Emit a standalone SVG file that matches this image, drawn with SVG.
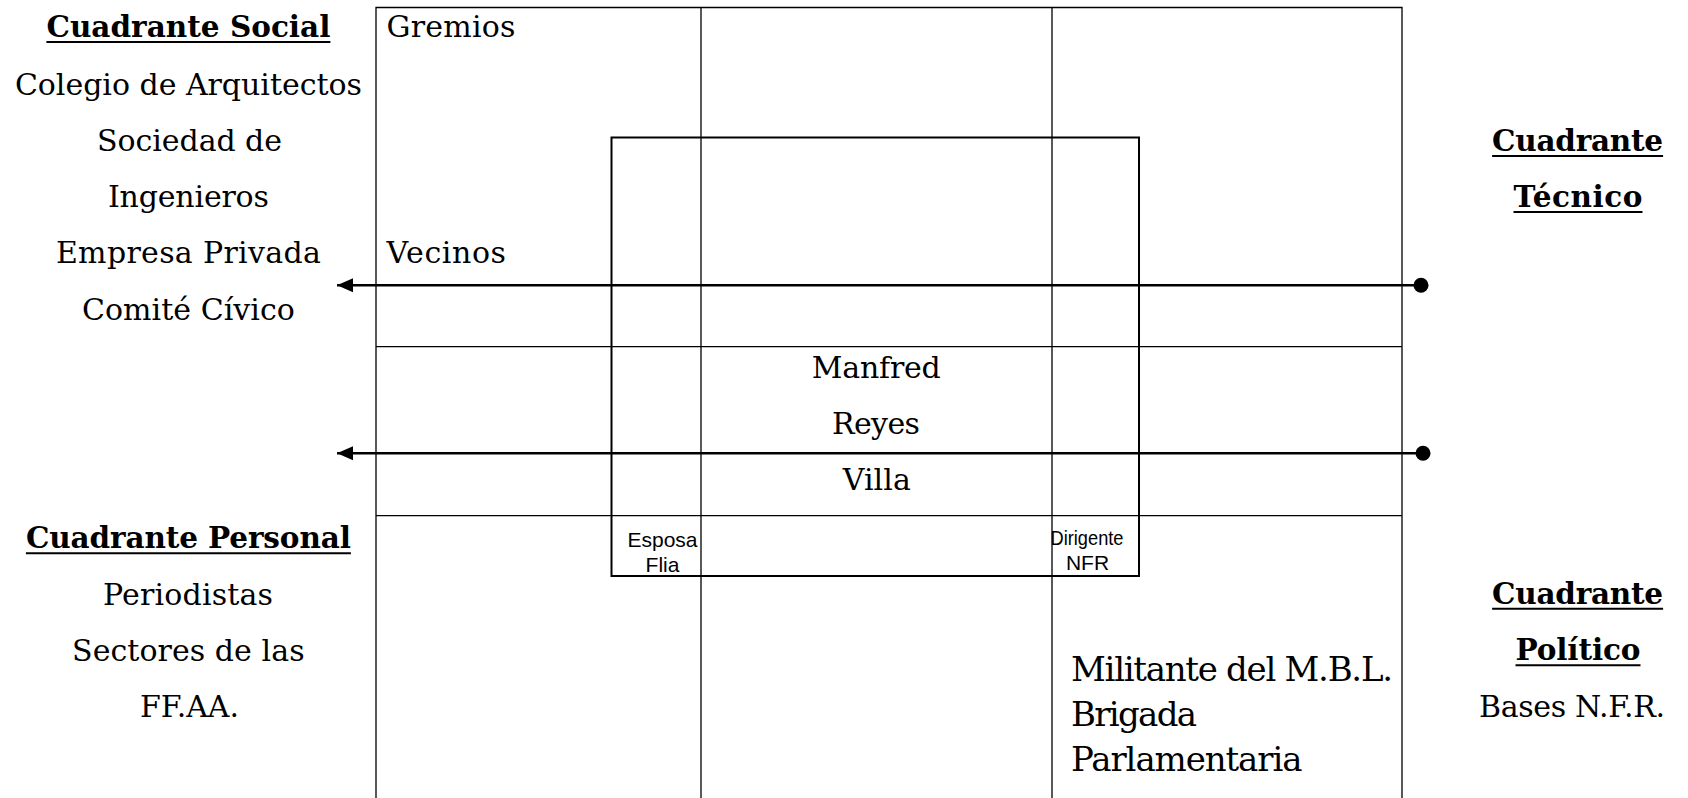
<svg xmlns="http://www.w3.org/2000/svg" width="1688" height="798" viewBox="0 0 1688 798">
<style>
.t{font-family:"DejaVu Serif","Liberation Serif",serif;font-size:30px;fill:#000}
.b{font-family:"DejaVu Serif","Liberation Serif",serif;font-size:29.5px;font-weight:bold;fill:#000}
.m{text-anchor:middle}
.s{font-family:"Liberation Sans",Arial,sans-serif;font-size:21px;fill:#000;text-anchor:middle}
.u{stroke:#000;stroke-width:2}
.g{fill:none;stroke:#000;stroke-width:1.3}
.r{fill:none;stroke:#000;stroke-width:2}
.c{stroke:#000;stroke-width:2.6;fill:none}
</style>
<defs>
<marker id="ah" markerUnits="userSpaceOnUse" markerWidth="18" markerHeight="16" refX="16" refY="8" orient="auto">
<path d="M16,8 L0,1 L0,15 Z" fill="#000"/>
</marker>
</defs>
<rect width="1688" height="798" fill="#fff"/>
<g id="grid">
<path class="g" d="M376,798 V7.5 H1402 V798 M701,7.5 V798 M1052,7.5 V798 M376,346.6 H1402 M376,515.6 H1402"/>
</g>
<g id="inner-box">
<rect class="r" x="611.5" y="137.5" width="527.5" height="438.5"/>
</g>
<g id="connectors">
<line class="c" x1="1421" y1="285.3" x2="337" y2="285.3" marker-end="url(#ah)"/>
<circle cx="1421" cy="285.3" r="7.5" fill="#000"/>
<line class="c" x1="1423" y1="453.3" x2="337" y2="453.3" marker-end="url(#ah)"/>
<circle cx="1423" cy="453.3" r="7.5" fill="#000"/>
</g>
<g id="cuadrante-social">
<text class="b m" x="188.4" y="36.7" textLength="284">Cuadrante Social</text>
<line class="u" x1="46.4" y1="42" x2="330.4" y2="42"/>
<text class="t m" x="188.4" y="95" textLength="347">Colegio de Arquitectos</text>
<text class="t m" x="189.5" y="150.7" textLength="185">Sociedad de</text>
<text class="t m" x="188.4" y="206.7" textLength="161">Ingenieros</text>
<text class="t m" x="188.4" y="263.3" textLength="265">Empresa Privada</text>
<text class="t m" x="188.4" y="319.5" textLength="213">Comité Cívico</text>
</g>
<g id="cuadrante-personal">
<text class="b m" x="188.4" y="548" textLength="325">Cuadrante Personal</text>
<line class="u" x1="25.9" y1="553.3" x2="350.9" y2="553.3"/>
<text class="t m" x="188" y="604.5" textLength="170">Periodistas</text>
<text class="t m" x="188.3" y="660.5" textLength="232.5">Sectores de las</text>
<text class="t m" x="189.5" y="716.7" textLength="99">FF.AA.</text>
</g>
<g id="cuadrante-tecnico">
<text class="b m" x="1577.6" y="150.7" textLength="171">Cuadrante</text>
<line class="u" x1="1492.1" y1="156" x2="1663.1" y2="156"/>
<text class="b m" x="1578" y="206.7" textLength="129">Técnico</text>
<line class="u" x1="1513.5" y1="212" x2="1642.5" y2="212"/>
</g>
<g id="cuadrante-politico">
<text class="b m" x="1577.6" y="603.5" textLength="171">Cuadrante</text>
<line class="u" x1="1492.1" y1="608.8" x2="1663.1" y2="608.8"/>
<text class="b m" x="1578" y="660" textLength="125">Político</text>
<line class="u" x1="1515.5" y1="665.3" x2="1640.5" y2="665.3"/>
<text class="t m" x="1572" y="716.7" textLength="186">Bases N.F.R.</text>
</g>
<g id="gremios">
<text class="t" x="386.5" y="36.7" textLength="129">Gremios</text>
</g>
<g id="vecinos">
<text class="t" x="386.5" y="263.3" textLength="119.5">Vecinos</text>
</g>
<g id="manfred-reyes-villa">
<text class="t m" x="876.3" y="377.5" textLength="129">Manfred</text>
<text class="t m" x="876" y="433.5" textLength="88">Reyes</text>
<text class="t m" x="876.8" y="490" textLength="68">Villa</text>
</g>
<g id="esposa-flia">
<text class="s" x="662.5" y="546.7" textLength="70">Esposa</text>
<text class="s" x="662.5" y="571.5">Flia</text>
</g>
<g id="dirigente-nfr">
<text class="s" x="1087" y="544.5" textLength="73" lengthAdjust="spacingAndGlyphs">Dirigente</text>
<text class="s" x="1087.5" y="570">NFR</text>
</g>
<g id="militante">
<text class="t" style="font-size:34px" x="1071" y="681" textLength="322">Militante del M.B.L.</text>
<text class="t" style="font-size:34px" x="1071" y="726" textLength="126">Brigada</text>
<text class="t" style="font-size:34px" x="1071" y="771" textLength="231.5">Parlamentaria</text>
</g>
</svg>
